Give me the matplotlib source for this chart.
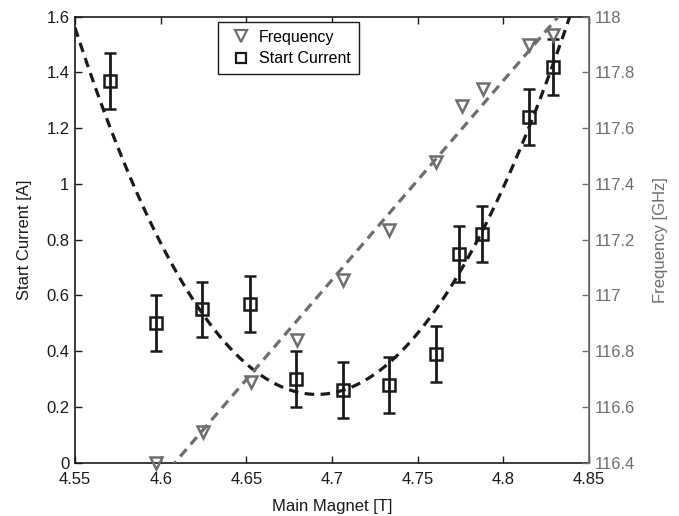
import numpy as np
import matplotlib
matplotlib.use("Agg")
import matplotlib.pyplot as plt

plt.rcParams['font.family'] = ['Liberation Sans', 'DejaVu Sans']

# start current measurements (left axis)
magnet_cur = [4.5704, 4.5973, 4.6239, 4.6521, 4.6789, 4.7064, 4.7334, 4.7606, 4.7742, 4.7878, 4.8150, 4.8287]
start_current = [1.37, 0.50, 0.55, 0.57, 0.30, 0.26, 0.28, 0.39, 0.75, 0.82, 1.24, 1.42]
current_err = [0.1] * 12

# frequency measurements (right axis)
magnet_freq = [4.5973, 4.6245, 4.6525, 4.6794, 4.7065, 4.7334, 4.7606, 4.7756, 4.7883, 4.8150, 4.8290]
frequency = [116.40, 116.51, 116.69, 116.84, 117.055, 117.235, 117.48, 117.68, 117.74, 117.90, 117.936]

# fit curves, polynomials in (B - 4.7)
current_fit_coef = [-13.4, 63.8, 1.134, 0.25]
freq_fit_coef = [7.15, 117.056]

fig = plt.figure(figsize=(6.79, 5.16), dpi=100)
ax = fig.add_axes([0.1105, 0.1033, 0.757, 0.8643])
ax2 = ax.twinx()

dark = '#1a1a1a'
grey = '#6e6e6e'
fs = 12

b = np.linspace(4.55, 4.85, 300)
ax.plot(b, np.polyval(current_fit_coef, b - 4.7), '--', color=dark, lw=2.3, dashes=(3, 2))
ax2.plot(b, np.polyval(freq_fit_coef, b - 4.7), '--', color=grey, lw=2.3, dashes=(3, 2))

ax.errorbar(magnet_cur, start_current, yerr=current_err, fmt='s', color=dark,
            mfc='none', mec=dark, ms=9, mew=1.8, elinewidth=2, capsize=4, capthick=2)
ax2.plot(magnet_freq, frequency, 'v', color=grey, mfc='none', mec=grey, ms=9, mew=1.8,
         clip_on=False)

ax.set_xlim(4.55, 4.85)
ax.set_ylim(0, 1.6)
ax2.set_ylim(116.4, 118)
ax.set_xticks([4.55, 4.6, 4.65, 4.7, 4.75, 4.8, 4.85])
ax.set_xticklabels(['4.55', '4.6', '4.65', '4.7', '4.75', '4.8', '4.85'])
ax.set_yticks([0, 0.2, 0.4, 0.6, 0.8, 1, 1.2, 1.4, 1.6])
ax.set_yticklabels(['0', '0.2', '0.4', '0.6', '0.8', '1', '1.2', '1.4', '1.6'])
ax2.set_yticks([116.4, 116.6, 116.8, 117, 117.2, 117.4, 117.6, 117.8, 118])
ax2.set_yticklabels(['116.4', '116.6', '116.8', '117', '117.2', '117.4', '117.6', '117.8', '118'])

ax.tick_params(axis='x', direction='in', top=True, length=5, width=1, colors=dark,
               labelsize=fs, pad=7)
ax.tick_params(axis='y', direction='in', length=5, width=1, colors=dark, labelsize=fs, pad=4)
ax2.tick_params(axis='y', direction='in', length=5, width=1, colors=grey, labelsize=fs, pad=4)

for s in ['left', 'bottom', 'top']:
    ax.spines[s].set_color(dark)
    ax.spines[s].set_linewidth(1.2)
ax2.spines['right'].set_color(grey)
ax2.spines['right'].set_linewidth(1.2)
ax2.spines['left'].set_visible(False)
ax2.spines['top'].set_visible(False)
ax2.spines['bottom'].set_visible(False)

ax.set_xlabel('Main Magnet [T]', fontsize=fs, color=dark, labelpad=8)
ax.set_ylabel('Start Current [A]', fontsize=fs, color=dark, labelpad=10)
ax2.set_ylabel('Frequency [GHz]', fontsize=fs, color=grey, labelpad=13)

h1 = plt.Line2D([], [], ls='none', marker='v', mfc='none', mec=grey, ms=8, mew=1.6)
h2 = plt.Line2D([], [], ls='none', marker='s', mfc='none', mec=dark, ms=7, mew=1.6)
leg = ax2.legend([h1, h2], ['Frequency', 'Start Current'], loc='upper left',
                 bbox_to_anchor=(0.278, 0.988), fancybox=False, framealpha=1,
                 edgecolor=dark, fontsize=11.5, handlelength=1.9, handletextpad=0.15,
                 borderpad=0.5, labelspacing=0.4, borderaxespad=0)
leg.get_frame().set_linewidth(1.0)

fig.savefig('out.png', dpi=100)
